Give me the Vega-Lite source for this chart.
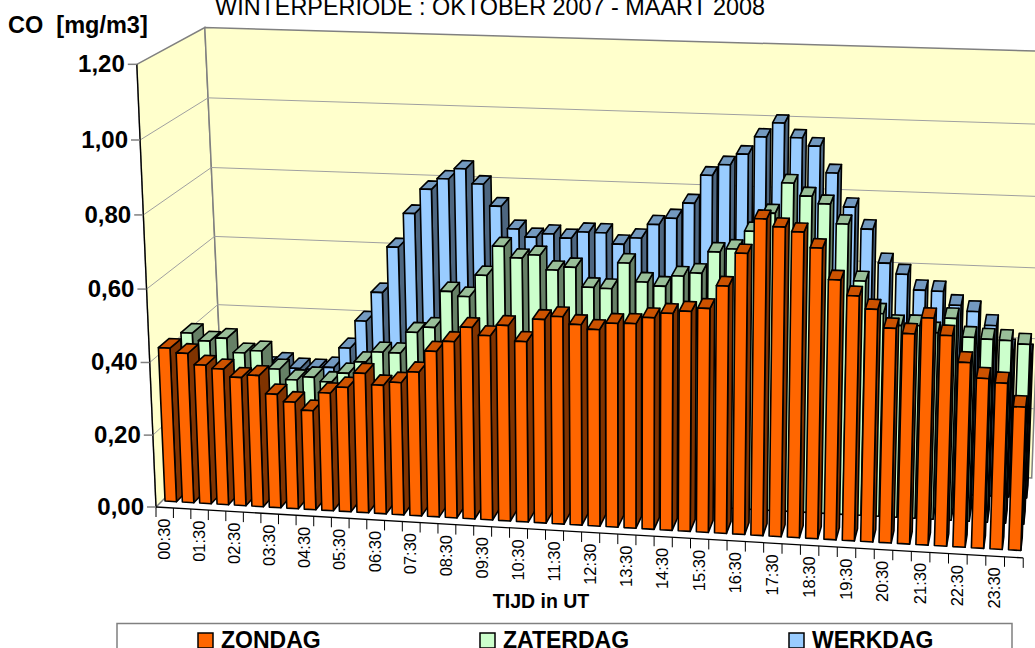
{"$schema":"https://vega.github.io/schema/vega-lite/v6.json","width":1035,"height":648,"autosize":{"type":"none"},"padding":0,"background":"white","config":{"view":{"stroke":null},"text":{"font":"Liberation Sans"}},
"datasets":{
"bars":[
{"tijd":"00:30","serie":"WERKDAG","co":0.28},{"tijd":"01:00","serie":"WERKDAG","co":0.27},{"tijd":"01:30","serie":"WERKDAG","co":0.27},{"tijd":"02:00","serie":"WERKDAG","co":0.27},{"tijd":"02:30","serie":"WERKDAG","co":0.284},{"tijd":"03:00","serie":"WERKDAG","co":0.27},{"tijd":"03:30","serie":"WERKDAG","co":0.269},{"tijd":"04:00","serie":"WERKDAG","co":0.277},{"tijd":"04:30","serie":"WERKDAG","co":0.335},{"tijd":"05:00","serie":"WERKDAG","co":0.415},{"tijd":"05:30","serie":"WERKDAG","co":0.499},{"tijd":"06:00","serie":"WERKDAG","co":0.63},{"tijd":"06:30","serie":"WERKDAG","co":0.727},{"tijd":"07:00","serie":"WERKDAG","co":0.797},{"tijd":"07:30","serie":"WERKDAG","co":0.828},{"tijd":"08:00","serie":"WERKDAG","co":0.858},{"tijd":"08:30","serie":"WERKDAG","co":0.817},{"tijd":"09:00","serie":"WERKDAG","co":0.757},{"tijd":"09:30","serie":"WERKDAG","co":0.695},{"tijd":"10:00","serie":"WERKDAG","co":0.674},{"tijd":"10:30","serie":"WERKDAG","co":0.685},{"tijd":"11:00","serie":"WERKDAG","co":0.675},{"tijd":"11:30","serie":"WERKDAG","co":0.694},{"tijd":"12:00","serie":"WERKDAG","co":0.694},{"tijd":"12:30","serie":"WERKDAG","co":0.664},{"tijd":"13:00","serie":"WERKDAG","co":0.683},{"tijd":"13:30","serie":"WERKDAG","co":0.723},{"tijd":"14:00","serie":"WERKDAG","co":0.742},{"tijd":"14:30","serie":"WERKDAG","co":0.786},{"tijd":"15:00","serie":"WERKDAG","co":0.865},{"tijd":"15:30","serie":"WERKDAG","co":0.896},{"tijd":"16:00","serie":"WERKDAG","co":0.927},{"tijd":"16:30","serie":"WERKDAG","co":0.976},{"tijd":"17:00","serie":"WERKDAG","co":1.016},{"tijd":"17:30","serie":"WERKDAG","co":0.977},{"tijd":"18:00","serie":"WERKDAG","co":0.956},{"tijd":"18:30","serie":"WERKDAG","co":0.884},{"tijd":"19:00","serie":"WERKDAG","co":0.792},{"tijd":"19:30","serie":"WERKDAG","co":0.733},{"tijd":"20:00","serie":"WERKDAG","co":0.641},{"tijd":"20:30","serie":"WERKDAG","co":0.612},{"tijd":"21:00","serie":"WERKDAG","co":0.57},{"tijd":"21:30","serie":"WERKDAG","co":0.569},{"tijd":"22:00","serie":"WERKDAG","co":0.532},{"tijd":"22:30","serie":"WERKDAG","co":0.517},{"tijd":"23:00","serie":"WERKDAG","co":0.48},{"tijd":"23:30","serie":"WERKDAG","co":0.414},{"tijd":"00:00","serie":"WERKDAG","co":0.402},
{"tijd":"00:30","serie":"ZATERDAG","co":0.416},{"tijd":"01:00","serie":"ZATERDAG","co":0.396},{"tijd":"01:30","serie":"ZATERDAG","co":0.406},{"tijd":"02:00","serie":"ZATERDAG","co":0.367},{"tijd":"02:30","serie":"ZATERDAG","co":0.375},{"tijd":"03:00","serie":"ZATERDAG","co":0.326},{"tijd":"03:30","serie":"ZATERDAG","co":0.298},{"tijd":"04:00","serie":"ZATERDAG","co":0.308},{"tijd":"04:30","serie":"ZATERDAG","co":0.297},{"tijd":"05:00","serie":"ZATERDAG","co":0.324},{"tijd":"05:30","serie":"ZATERDAG","co":0.358},{"tijd":"06:00","serie":"ZATERDAG","co":0.388},{"tijd":"06:30","serie":"ZATERDAG","co":0.388},{"tijd":"07:00","serie":"ZATERDAG","co":0.448},{"tijd":"07:30","serie":"ZATERDAG","co":0.464},{"tijd":"08:00","serie":"ZATERDAG","co":0.566},{"tijd":"08:30","serie":"ZATERDAG","co":0.554},{"tijd":"09:00","serie":"ZATERDAG","co":0.615},{"tijd":"09:30","serie":"ZATERDAG","co":0.697},{"tijd":"10:00","serie":"ZATERDAG","co":0.667},{"tijd":"10:30","serie":"ZATERDAG","co":0.677},{"tijd":"11:00","serie":"ZATERDAG","co":0.638},{"tijd":"11:30","serie":"ZATERDAG","co":0.648},{"tijd":"12:00","serie":"ZATERDAG","co":0.595},{"tijd":"12:30","serie":"ZATERDAG","co":0.594},{"tijd":"13:00","serie":"ZATERDAG","co":0.666},{"tijd":"13:30","serie":"ZATERDAG","co":0.616},{"tijd":"14:00","serie":"ZATERDAG","co":0.607},{"tijd":"14:30","serie":"ZATERDAG","co":0.637},{"tijd":"15:00","serie":"ZATERDAG","co":0.647},{"tijd":"15:30","serie":"ZATERDAG","co":0.707},{"tijd":"16:00","serie":"ZATERDAG","co":0.717},{"tijd":"16:30","serie":"ZATERDAG","co":0.767},{"tijd":"17:00","serie":"ZATERDAG","co":0.818},{"tijd":"17:30","serie":"ZATERDAG","co":0.901},{"tijd":"18:00","serie":"ZATERDAG","co":0.868},{"tijd":"18:30","serie":"ZATERDAG","co":0.849},{"tijd":"19:00","serie":"ZATERDAG","co":0.797},{"tijd":"19:30","serie":"ZATERDAG","co":0.645},{"tijd":"20:00","serie":"ZATERDAG","co":0.559},{"tijd":"20:30","serie":"ZATERDAG","co":0.529},{"tijd":"21:00","serie":"ZATERDAG","co":0.531},{"tijd":"21:30","serie":"ZATERDAG","co":0.514},{"tijd":"22:00","serie":"ZATERDAG","co":0.555},{"tijd":"22:30","serie":"ZATERDAG","co":0.506},{"tijd":"23:00","serie":"ZATERDAG","co":0.503},{"tijd":"23:30","serie":"ZATERDAG","co":0.502},{"tijd":"00:00","serie":"ZATERDAG","co":0.494},
{"tijd":"00:30","serie":"ZONDAG","co":0.427},{"tijd":"01:00","serie":"ZONDAG","co":0.415},{"tijd":"01:30","serie":"ZONDAG","co":0.385},{"tijd":"02:00","serie":"ZONDAG","co":0.377},{"tijd":"02:30","serie":"ZONDAG","co":0.356},{"tijd":"03:00","serie":"ZONDAG","co":0.364},{"tijd":"03:30","serie":"ZONDAG","co":0.315},{"tijd":"04:00","serie":"ZONDAG","co":0.296},{"tijd":"04:30","serie":"ZONDAG","co":0.275},{"tijd":"05:00","serie":"ZONDAG","co":0.326},{"tijd":"05:30","serie":"ZONDAG","co":0.344},{"tijd":"06:00","serie":"ZONDAG","co":0.385},{"tijd":"06:30","serie":"ZONDAG","co":0.355},{"tijd":"07:00","serie":"ZONDAG","co":0.365},{"tijd":"07:30","serie":"ZONDAG","co":0.396},{"tijd":"08:00","serie":"ZONDAG","co":0.455},{"tijd":"08:30","serie":"ZONDAG","co":0.484},{"tijd":"09:00","serie":"ZONDAG","co":0.525},{"tijd":"09:30","serie":"ZONDAG","co":0.505},{"tijd":"10:00","serie":"ZONDAG","co":0.535},{"tijd":"10:30","serie":"ZONDAG","co":0.494},{"tijd":"11:00","serie":"ZONDAG","co":0.556},{"tijd":"11:30","serie":"ZONDAG","co":0.566},{"tijd":"12:00","serie":"ZONDAG","co":0.547},{"tijd":"12:30","serie":"ZONDAG","co":0.536},{"tijd":"13:00","serie":"ZONDAG","co":0.555},{"tijd":"13:30","serie":"ZONDAG","co":0.557},{"tijd":"14:00","serie":"ZONDAG","co":0.575},{"tijd":"14:30","serie":"ZONDAG","co":0.589},{"tijd":"15:00","serie":"ZONDAG","co":0.597},{"tijd":"15:30","serie":"ZONDAG","co":0.607},{"tijd":"16:00","serie":"ZONDAG","co":0.669},{"tijd":"16:30","serie":"ZONDAG","co":0.758},{"tijd":"17:00","serie":"ZONDAG","co":0.851},{"tijd":"17:30","serie":"ZONDAG","co":0.832},{"tijd":"18:00","serie":"ZONDAG","co":0.821},{"tijd":"18:30","serie":"ZONDAG","co":0.781},{"tijd":"19:00","serie":"ZONDAG","co":0.699},{"tijd":"19:30","serie":"ZONDAG","co":0.659},{"tijd":"20:00","serie":"ZONDAG","co":0.626},{"tijd":"20:30","serie":"ZONDAG","co":0.578},{"tijd":"21:00","serie":"ZONDAG","co":0.566},{"tijd":"21:30","serie":"ZONDAG","co":0.61},{"tijd":"22:00","serie":"ZONDAG","co":0.566},{"tijd":"22:30","serie":"ZONDAG","co":0.497},{"tijd":"23:00","serie":"ZONDAG","co":0.457},{"tijd":"23:30","serie":"ZONDAG","co":0.447},{"tijd":"00:00","serie":"ZONDAG","co":0.386}
],
"walls":[
{"wand":"zij","c":0,"t":0,"val":0,"d":0},{"wand":"zij","c":1,"t":0,"val":0,"d":1},{"wand":"zij","c":2,"t":0,"val":1.2,"d":1},{"wand":"zij","c":3,"t":0,"val":1.2,"d":0},
{"wand":"achter","c":0,"t":0,"val":0,"d":1},{"wand":"achter","c":1,"t":48,"val":0,"d":1},{"wand":"achter","c":2,"t":48,"val":1.2,"d":1},{"wand":"achter","c":3,"t":0,"val":1.2,"d":1}
],
"grid":[
{"val":0.2},{"val":0.4},{"val":0.6},{"val":0.8},{"val":1.0}
],
"yticks":[{"val":0},{"val":0.2},{"val":0.4},{"val":0.6},{"val":0.8},{"val":1.0},{"val":1.2}],
"xticks":[{"t":0},{"t":1},{"t":2},{"t":3},{"t":4},{"t":5},{"t":6},{"t":7},{"t":8},{"t":9},{"t":10},{"t":11},{"t":12},{"t":13},{"t":14},{"t":15},{"t":16},{"t":17},{"t":18},{"t":19},{"t":20},{"t":21},{"t":22},{"t":23},{"t":24},{"t":25},{"t":26},{"t":27},{"t":28},{"t":29},{"t":30},{"t":31},{"t":32},{"t":33},{"t":34},{"t":35},{"t":36},{"t":37},{"t":38},{"t":39},{"t":40},{"t":41},{"t":42},{"t":43},{"t":44},{"t":45},{"t":46},{"t":47},{"t":48}]
},
"encoding":{
"x":{"field":"px","type":"quantitative","scale":{"domain":[0,1035],"nice":false,"zero":false},"axis":null},
"y":{"field":"py","type":"quantitative","scale":{"domain":[648,0],"nice":false,"zero":false},"axis":null}
},
"layer":[
{"data":{"name":"walls"},
"transform":[
{"calculate":"datum.val*(357.5+9.5*datum.val)/369","as":"vv"},
{"calculate":"17.4*datum.t+0.0139*datum.t*datum.t","as":"T"},
{"calculate":"156+datum.T+(-16+0.604*datum.t)*datum.vv+datum.d*(68-1.24*datum.t)","as":"px"},
{"calculate":"507-68*datum.d+datum.T*(0.0587-0.0137*datum.d)-datum.vv*(369-26*datum.d+0.0145*datum.T)","as":"py"}],
"mark":{"type":"line","interpolate":"linear-closed","fill":"#FFFFCC","stroke":"#808080","strokeWidth":1.5},
"encoding":{"detail":{"field":"wand"},"order":{"field":"c","type":"quantitative"}}},
{"data":{"name":"grid"},
"transform":[
{"calculate":"[{c:0,t:0,d:0},{c:1,t:0,d:1},{c:2,t:48,d:1}]","as":"pts"},{"flatten":["pts"]},
{"calculate":"datum.pts.t","as":"t"},{"calculate":"datum.pts.d","as":"d"},{"calculate":"datum.pts.c","as":"c"},
{"calculate":"datum.val*(357.5+9.5*datum.val)/369","as":"vv"},
{"calculate":"17.4*datum.t+0.0139*datum.t*datum.t","as":"T"},
{"calculate":"156+datum.T+(-16+0.604*datum.t)*datum.vv+datum.d*(68-1.24*datum.t)","as":"px"},
{"calculate":"507-68*datum.d+datum.T*(0.0587-0.0137*datum.d)-datum.vv*(369-26*datum.d+0.0145*datum.T)","as":"py"}],
"mark":{"type":"line","stroke":"#A0A0A0","strokeWidth":1},
"encoding":{"detail":{"field":"val"},"order":{"field":"c","type":"quantitative"}}},
{"data":{"name":"bars"},
"transform":[
{"calculate":"(toNumber(substring(datum.tijd,0,2))*2+toNumber(substring(datum.tijd,3,5))/30+47)%48","as":"slot"},
{"calculate":"indexof(['ZONDAG','ZATERDAG','WERKDAG'],datum.serie)","as":"k"},
{"calculate":"[{f:'zijkant',c:0,u:1,w:0,z:0},{f:'zijkant',c:1,u:1,w:0,z:1},{f:'zijkant',c:2,u:1,w:1,z:1},{f:'zijkant',c:3,u:1,w:1,z:0},{f:'boven',c:0,u:0,w:1,z:0},{f:'boven',c:1,u:1,w:1,z:0},{f:'boven',c:2,u:1,w:1,z:1},{f:'boven',c:3,u:0,w:1,z:1},{f:'voor',c:0,u:0,w:0,z:0},{f:'voor',c:1,u:1,w:0,z:0},{f:'voor',c:2,u:1,w:1,z:0},{f:'voor',c:3,u:0,w:1,z:0}]","as":"pts"},
{"flatten":["pts"]},
{"calculate":"datum.slot+0.17+0.66*datum.pts.u","as":"t"},
{"calculate":"datum.co*datum.pts.w","as":"val"},
{"calculate":"0.09+0.33*datum.k+0.16*datum.pts.z","as":"d"},
{"calculate":"datum.pts.c","as":"c"},
{"calculate":"datum.serie+'|'+datum.pts.f","as":"vlak"},
{"calculate":"datum.serie+'|'+datum.slot+'|'+datum.pts.f","as":"sleutel"},
{"calculate":"datum.val*(357.5+9.5*datum.val)/369","as":"vv"},
{"calculate":"17.4*datum.t+0.0139*datum.t*datum.t","as":"T"},
{"calculate":"156+datum.T+(-16+0.604*datum.t)*datum.vv+datum.d*(68-1.24*datum.t)","as":"px"},
{"calculate":"507-68*datum.d+datum.T*(0.0587-0.0137*datum.d)-datum.vv*(369-26*datum.d+0.0145*datum.T)","as":"py"}],
"mark":{"type":"line","interpolate":"linear-closed","stroke":"#000000","strokeWidth":1.6,"strokeJoin":"round"},
"encoding":{"detail":{"field":"sleutel"},"order":{"field":"c","type":"quantitative"},
"fill":{"field":"vlak","type":"nominal","legend":null,"scale":{"domain":["ZONDAG|voor","ZONDAG|zijkant","ZONDAG|boven","ZATERDAG|voor","ZATERDAG|zijkant","ZATERDAG|boven","WERKDAG|voor","WERKDAG|zijkant","WERKDAG|boven"],"range":["#FF6600","#803300","#CC5200","#CCFFCC","#668066","#99BF99","#99CCFF","#4D6680","#7399BF"]}}}},
{"data":{"values":[{"a":0,"val":0},{"a":1,"val":1.2}]},
"transform":[{"calculate":"156-16*datum.val","as":"px"},{"calculate":"507-datum.val*(357.5+9.5*datum.val)","as":"py"}],
"mark":{"type":"line","stroke":"#000000","strokeWidth":1.3},"encoding":{"order":{"field":"a","type":"quantitative"}}},
{"data":{"values":[{"t":0},{"t":48}]},
"transform":[{"calculate":"17.4*datum.t+0.0139*datum.t*datum.t","as":"T"},{"calculate":"156+datum.T","as":"px"},{"calculate":"507+datum.T*0.0587","as":"py"}],
"mark":{"type":"line","stroke":"#000000","strokeWidth":1.3},"encoding":{"order":{"field":"t","type":"quantitative"}}},
{"data":{"name":"xticks"},
"transform":[{"calculate":"17.4*datum.t+0.0139*datum.t*datum.t","as":"T"},{"calculate":"156+datum.T","as":"px"},{"calculate":"507+datum.T*0.0587","as":"py"},{"calculate":"datum.py+10","as":"py2"}],
"mark":{"type":"rule","stroke":"#000000","strokeWidth":1},"encoding":{"y2":{"field":"py2"}}},
{"data":{"name":"yticks"},
"transform":[{"calculate":"156-16*datum.val","as":"px"},{"calculate":"507-datum.val*(357.5+9.5*datum.val)","as":"py"},{"calculate":"datum.px-9","as":"px2"}],
"mark":{"type":"rule","stroke":"#808080","strokeWidth":1.5},"encoding":{"x2":{"field":"px2"}}},
{"data":{"name":"yticks"},
"transform":[{"calculate":"156-16*datum.val-12","as":"px"},{"calculate":"508-datum.val*(357.5+9.5*datum.val)","as":"py"},{"calculate":"replace(format(datum.val,'.2f'),'.',',')","as":"lab"}],
"mark":{"type":"text","align":"right","baseline":"middle","fontWeight":"bold","fontSize":24,"font":"Liberation Sans","color":"#000000"},"encoding":{"text":{"field":"lab"}}},
{"data":{"name":"bars"},
"transform":[{"filter":"datum.serie==='ZONDAG'"},
{"calculate":"(toNumber(substring(datum.tijd,0,2))*2+toNumber(substring(datum.tijd,3,5))/30+47)%48","as":"slot"},
{"filter":"datum.slot%2===0"},
{"calculate":"datum.slot+0.5","as":"t"},
{"calculate":"17.4*datum.t+0.0139*datum.t*datum.t","as":"T"},{"calculate":"156+datum.T","as":"px"},{"calculate":"507+datum.T*0.0587+11","as":"py"}],
"mark":{"type":"text","angle":270,"align":"right","baseline":"middle","fontSize":16.5,"font":"Liberation Sans","color":"#000000"},"encoding":{"text":{"field":"tijd"}}},
{"data":{"values":[{"s":"WINTERPERIODE : OKTOBER 2007 - MAART 2008"}]},"transform":[{"calculate":"490","as":"px"},{"calculate":"15","as":"py"}],"mark":{"type":"text","align":"center","baseline":"alphabetic","fontSize":23.4,"font":"Liberation Sans","color":"#000000"},"encoding":{"text":{"field":"s"}}},
{"data":{"values":[{"s":"CO \u00a0[mg/m3]"}]},"transform":[{"calculate":"8","as":"px"},{"calculate":"33","as":"py"}],"mark":{"type":"text","align":"left","baseline":"alphabetic","fontSize":23.5,"fontWeight":"bold","font":"Liberation Sans","color":"#000000"},"encoding":{"text":{"field":"s"}}},
{"data":{"values":[{"s":"TIJD in UT"}]},"transform":[{"calculate":"541","as":"px"},{"calculate":"608","as":"py"}],"mark":{"type":"text","align":"center","baseline":"alphabetic","fontSize":19.5,"fontWeight":"bold","font":"Liberation Sans","color":"#000000"},"encoding":{"text":{"field":"s"}}},
{"data":{"values":[{"s":1}]},"transform":[{"calculate":"117","as":"px"},{"calculate":"1012","as":"px2"},{"calculate":"623.5","as":"py"},{"calculate":"660","as":"py2"}],"mark":{"type":"rect","fill":"white","stroke":"#808080","strokeWidth":1.5},"encoding":{"x2":{"field":"px2"},"y2":{"field":"py2"}}},
{"data":{"name":"bars"},"transform":[{"calculate":"500","as":"px"},{"calculate":"300","as":"py"}],
"mark":{"type":"square","size":0,"opacity":1},
"encoding":{"color":{"field":"serie","type":"nominal","scale":{"domain":["ZONDAG","ZATERDAG","WERKDAG"],"range":["#FF6600","#CCFFCC","#99CCFF"]},
"legend":{"orient":"none","legendX":194,"legendY":629,"direction":"horizontal","columns":3,"gridAlign":"none","columnPadding":155,"title":null,"labelFont":"Liberation Sans","labelFontSize":23,"labelFontWeight":"bold","labelColor":"#000000","symbolType":"square","symbolSize":225,"symbolStrokeColor":"#000000","symbolStrokeWidth":1.5,"symbolOpacity":1,"padding":0}}}}
]}
